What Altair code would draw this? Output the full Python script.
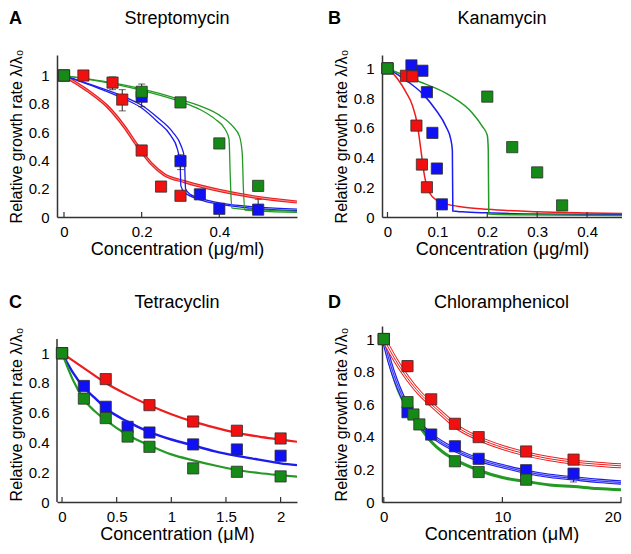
import altair as alt
import pandas as pd

FONT = "Liberation Sans"
SQ_COL = {"red": "#f01010", "blue": "#1010f5", "green": "#168a16"}
LN_COL = {"red": "#ee1c1c", "blue": "#1c1cee", "green": "#249a24"}

# ---------------- Panel A : Streptomycin ----------------
A_RED_X = [0, 0.05, 0.125, 0.15, 0.2, 0.25, 0.3]
A_RED_Y = [1.0, 1.0, 0.95, 0.83, 0.47, 0.215, 0.15]
A_BLUE_X = [0, 0.2, 0.3, 0.35, 0.4, 0.5]
A_BLUE_Y = [1.0, 0.85, 0.395, 0.16, 0.058, 0.052]
A_GREEN_X = [0, 0.2, 0.3, 0.4, 0.5]
A_GREEN_Y = [1.0, 0.885, 0.81, 0.52, 0.22]
A_ERR_X = [0.125, 0.15, 0.2, 0.3, 0.5]
A_ERR_LO = [0.90, 0.75, 0.78, 0.335, 0.052]
A_ERR_HI = [0.99, 0.90, 0.94, 0.44, 0.125]

A_RED_CX = [0, 0.035, 0.07, 0.112, 0.155, 0.19, 0.224, 0.258, 0.31, 0.396, 0.481, 0.6]
A_RED_CY = [1.0, 0.94, 0.875, 0.781, 0.64, 0.50, 0.38, 0.30, 0.25, 0.19, 0.146, 0.106]
A_BLUE1_CX = [0, 0.07, 0.155, 0.2, 0.24, 0.275, 0.292, 0.299, 0.301, 0.31, 0.353, 0.396, 0.481, 0.6]
A_BLUE1_CY = [1.0, 0.93, 0.835, 0.77, 0.675, 0.575, 0.48, 0.38, 0.22, 0.175, 0.12, 0.092, 0.062, 0.045]
A_BLUE2_CX = [0, 0.07, 0.155, 0.2, 0.24, 0.28, 0.302, 0.31, 0.313, 0.325, 0.36, 0.4, 0.5, 0.6]
A_BLUE2_CY = [1.0, 0.935, 0.85, 0.79, 0.705, 0.6, 0.5, 0.42, 0.2, 0.16, 0.125, 0.1, 0.07, 0.055]
A_GREEN1_CX = [0, 0.1, 0.2, 0.3, 0.35, 0.39, 0.415, 0.425, 0.428, 0.432, 0.45, 0.5, 0.6]
A_GREEN1_CY = [1.0, 0.955, 0.895, 0.815, 0.76, 0.69, 0.62, 0.55, 0.3, 0.065, 0.058, 0.05, 0.04]
A_GREEN2_CX = [0, 0.1, 0.2, 0.3, 0.35, 0.4, 0.435, 0.452, 0.459, 0.462, 0.466, 0.5, 0.6]
A_GREEN2_CY = [1.0, 0.96, 0.905, 0.83, 0.785, 0.72, 0.64, 0.57, 0.45, 0.2, 0.048, 0.042, 0.032]

# ---------------- Panel B : Kanamycin ----------------
B_RED_X = [0, 0.037, 0.05, 0.058, 0.069, 0.079]
B_RED_Y = [1.0, 0.95, 0.946, 0.615, 0.353, 0.2]
B_BLUE_X = [0, 0.048, 0.07, 0.079, 0.09, 0.099, 0.109]
B_BLUE_Y = [1.0, 1.02, 0.984, 0.84, 0.566, 0.326, 0.085]
B_GREEN_X = [0, 0.2, 0.25, 0.3, 0.35]
B_GREEN_Y = [1.0, 0.81, 0.47, 0.3, 0.078]

B_RED_CX = [0, 0.02, 0.037, 0.05, 0.06, 0.067, 0.074, 0.084, 0.1, 0.12, 0.15, 0.2, 0.3, 0.4, 0.47]
B_RED_CY = [1.0, 0.93, 0.84, 0.75, 0.62, 0.45, 0.28, 0.165, 0.11, 0.085, 0.068, 0.052, 0.035, 0.027, 0.023]
B_BLUE_CX = [0, 0.037, 0.07, 0.097, 0.117, 0.127, 0.13, 0.131, 0.15, 0.2, 0.3, 0.47]
B_BLUE_CY = [1.0, 0.92, 0.83, 0.72, 0.61, 0.52, 0.45, 0.04, 0.035, 0.028, 0.02, 0.015]
B_GREEN_CX = [0, 0.057, 0.124, 0.17, 0.19, 0.2, 0.202, 0.203, 0.25, 0.47]
B_GREEN_CY = [1.0, 0.92, 0.82, 0.70, 0.61, 0.55, 0.45, 0.02, 0.015, 0.01]

# ---------------- Panel C : Tetracyclin ----------------
C_RED_X = [0, 0.4, 0.8, 1.2, 1.6, 2.0]
C_RED_Y = [1.0, 0.826, 0.651, 0.541, 0.479, 0.427]
C_BLUE_X = [0, 0.2, 0.4, 0.6, 0.8, 1.2, 1.6, 2.0]
C_BLUE_Y = [1.0, 0.78, 0.64, 0.505, 0.467, 0.387, 0.353, 0.311]
C_GREEN_X = [0, 0.2, 0.4, 0.6, 0.8, 1.2, 1.6, 2.0]
C_GREEN_Y = [1.0, 0.695, 0.564, 0.44, 0.371, 0.226, 0.203, 0.172]

C_RED_CX = [0, 0.1, 0.2, 0.4, 0.6, 0.8, 1.0, 1.2, 1.4, 1.6, 1.8, 2.0, 2.15]
C_RED_CY = [1.0, 0.95, 0.9, 0.8, 0.72, 0.65, 0.59, 0.54, 0.5, 0.465, 0.44, 0.42, 0.405]
C_BLUE_CX = [0, 0.1, 0.2, 0.3, 0.4, 0.6, 0.8, 1.0, 1.2, 1.4, 1.6, 1.8, 2.0, 2.15]
C_BLUE_CY = [1.0, 0.87, 0.77, 0.7, 0.63, 0.54, 0.47, 0.42, 0.38, 0.34, 0.31, 0.285, 0.26, 0.248]
C_GREEN_CX = [0, 0.1, 0.2, 0.3, 0.4, 0.6, 0.8, 1.0, 1.2, 1.4, 1.6, 1.8, 2.0, 2.15]
C_GREEN_CY = [1.0, 0.82, 0.69, 0.61, 0.55, 0.45, 0.38, 0.32, 0.28, 0.245, 0.215, 0.195, 0.18, 0.17]

# ---------------- Panel D : Chloramphenicol ----------------
D_RED_X = [0, 2, 4, 6, 8, 12, 16]
D_RED_Y = [1.0, 0.834, 0.63, 0.48, 0.398, 0.31, 0.26]
D_BLUE_X = [0, 2, 4, 6, 8, 12, 16]
D_BLUE_Y = [1.0, 0.551, 0.414, 0.342, 0.265, 0.195, 0.174]
D_GREEN_X = [0, 2, 2.5, 3, 6, 8, 12]
D_GREEN_Y = [1.0, 0.613, 0.537, 0.476, 0.25, 0.184, 0.137]
D_ERR_X = [2, 16, 16]
D_ERR_LO = [0.80, 0.123, 0.24]
D_ERR_HI = [0.865, 0.205, 0.28]

D_RED_CX = [0, 1, 2, 3, 4, 5, 6, 8, 10, 12, 14, 16, 18, 20]
D_RED_CY = [1.0, 0.87, 0.76, 0.67, 0.6, 0.535, 0.47, 0.39, 0.335, 0.295, 0.265, 0.245, 0.232, 0.222]
D_BLUE_CX = [0, 0.5, 1, 1.5, 2, 3, 4, 6, 8, 10, 12, 14, 16, 18, 20]
D_BLUE_CY = [1.0, 0.86, 0.75, 0.66, 0.585, 0.48, 0.41, 0.32, 0.26, 0.22, 0.185, 0.16, 0.145, 0.13, 0.12]
D_GREEN_CX = [0, 0.5, 1, 1.5, 2, 2.5, 3, 4, 5, 6, 8, 10, 12, 14, 16, 18, 20]
D_GREEN_CY = [1.0, 0.85, 0.73, 0.64, 0.575, 0.52, 0.465, 0.37, 0.305, 0.26, 0.195, 0.15, 0.125, 0.105, 0.095, 0.083, 0.075]

Y_TICKS = [0, 0.2, 0.4, 0.6, 0.8, 1]
Y_TITLE = "Relative growth rate λ/λ₀"


def squares(series_list):
    rows = []
    for name, xs, ys in series_list:
        for x, y in zip(xs, ys):
            rows.append({"c": x, "v": y, "s": name})
    return pd.DataFrame(rows)


def curve(xs, ys):
    return pd.DataFrame({"c": xs, "v": ys})


def panel(letter, title, xdom, ydom, xticks, xtitle, w, h, text_y, letter_x,
          sq_series, curve_layers, errs=None, flush=False, yline_top=None):
    xaxis_kw = dict(values=xticks, format="~g", title=xtitle, ticks=False,
                    grid=False, labelPadding=7, titlePadding=1)
    if flush:
        xaxis_kw["labelFlush"] = 1
    X = alt.X("c:Q", scale=alt.Scale(domain=xdom, nice=False, zero=False),
              axis=alt.Axis(**xaxis_kw))
    Y = alt.Y("v:Q", scale=alt.Scale(domain=ydom, nice=False, zero=False),
              axis=alt.Axis(values=Y_TICKS, format="~g", title=Y_TITLE, ticks=False,
                            grid=False, labelPadding=8, titlePadding=4,
                            titleFontSize=16, domain=(yline_top is None)))
    layers = []
    if yline_top is not None:
        yl = pd.DataFrame({"v": [0], "v2": [yline_top]})
        layers.append(alt.Chart(yl).mark_rule(color="#333", strokeWidth=1.5).encode(
            x=alt.value(0), y=Y, y2=alt.Y2("v2:Q")))
    for xs, ys, col, sw in curve_layers:
        layers.append(alt.Chart(curve(xs, ys)).mark_line(
            interpolate="monotone", color=col, strokeWidth=sw, clip=True
        ).encode(x=X, y=Y))
    if errs is not None:
        ex, lo, hi = errs
        edf = pd.DataFrame({"c": ex, "v": lo, "hi": hi})
        layers.append(alt.Chart(edf).mark_rule(color="#222", strokeWidth=1).encode(
            x=X, y=Y, y2=alt.Y2("hi:Q")))
        cap = pd.DataFrame({"c": ex + ex, "v": lo + hi})
        layers.append(alt.Chart(cap).mark_tick(
            orient="horizontal", color="#222", thickness=1, size=7).encode(x=X, y=Y))
    sq = squares(sq_series)
    layers.append(alt.Chart(sq).mark_point(
        shape="square", filled=True, size=125, opacity=1,
        stroke="#303030", strokeWidth=1, strokeOpacity=0.8
    ).encode(
        x=X, y=Y,
        color=alt.Color("s:N", scale=alt.Scale(domain=list(SQ_COL.keys()),
                                               range=list(SQ_COL.values())), legend=None)))
    tk = pd.DataFrame({"c": xticks})
    layers.append(alt.Chart(tk).mark_rule(color="#333", strokeWidth=1.2).encode(
        x=X, y=alt.value(h), y2=alt.value(h - 5)))
    lab = pd.DataFrame({"t": [letter]})
    layers.append(alt.Chart(lab).mark_text(
        align="left", baseline="alphabetic", fontWeight="bold", fontSize=18,
        font=FONT, color="black"
    ).encode(x=alt.value(letter_x), y=alt.value(text_y), text="t:N"))
    ttl = pd.DataFrame({"t": [title]})
    layers.append(alt.Chart(ttl).mark_text(
        align="center", baseline="alphabetic", fontSize=18,
        font=FONT, color="black"
    ).encode(x=alt.value(w / 2), y=alt.value(text_y), text="t:N"))
    return alt.layer(*layers).properties(width=w, height=h)


pA = panel("A", "Streptomycin", [-0.018, 0.6], [0, 1.145], [0, 0.2, 0.4],
           "Concentration (μg/ml)", 240, 162, -31, -48,
           [("blue", A_BLUE_X, A_BLUE_Y), ("red", A_RED_X, A_RED_Y), ("green", A_GREEN_X, A_GREEN_Y)],
           [(A_RED_CX, A_RED_CY, LN_COL["red"], 3.2),
            (A_RED_CX, A_RED_CY, "#f4a0a0", 0.9),
            (A_BLUE1_CX, A_BLUE1_CY, LN_COL["blue"], 1.3),
            (A_BLUE2_CX, A_BLUE2_CY, LN_COL["blue"], 1.3),
            (A_GREEN1_CX, A_GREEN1_CY, LN_COL["green"], 1.3),
            (A_GREEN2_CX, A_GREEN2_CY, LN_COL["green"], 1.3)],
           errs=(A_ERR_X, A_ERR_LO, A_ERR_HI))

pB = panel("B", "Kanamycin", [-0.011, 0.47], [0, 1.09], [0, 0.1, 0.2, 0.3, 0.4],
           "Concentration (μg/ml)", 240, 162, -31, -54,
           [("blue", B_BLUE_X, B_BLUE_Y), ("red", B_RED_X, B_RED_Y), ("green", B_GREEN_X, B_GREEN_Y)],
           [(B_RED_CX, B_RED_CY, LN_COL["red"], 1.5),
            (B_BLUE_CX, B_BLUE_CY, LN_COL["blue"], 1.5),
            (B_GREEN_CX, B_GREEN_CY, LN_COL["green"], 1.5)])

pC = panel("C", "Tetracyclin", [-0.046, 2.15], [0, 1.183], [0, 0.5, 1, 1.5, 2],
           "Concentration (μM)", 240, 176, -18, -48,
           [("blue", C_BLUE_X, C_BLUE_Y), ("red", C_RED_X, C_RED_Y), ("green", C_GREEN_X, C_GREEN_Y)],
           [(C_RED_CX, C_RED_CY, LN_COL["red"], 2.2),
            (C_BLUE_CX, C_BLUE_CY, LN_COL["blue"], 2.4),
            (C_GREEN_CX, C_GREEN_CY, LN_COL["green"], 2.2)],
           yline_top=1.096)

pD = panel("D", "Chloramphenicol", [-0.15, 20], [0, 1.08], [0, 10, 20],
           "Concentration (μM)", 239, 176, -18, -54,
           [("blue", D_BLUE_X, D_BLUE_Y), ("red", D_RED_X, D_RED_Y), ("green", D_GREEN_X, D_GREEN_Y)],
           [(D_GREEN_CX, D_GREEN_CY, LN_COL["green"], 3.0),
            (D_BLUE_CX, D_BLUE_CY, LN_COL["blue"], 4.4),
            (D_BLUE_CX, D_BLUE_CY, "#b8b8ff", 2.2),
            (D_BLUE_CX, D_BLUE_CY, LN_COL["blue"], 0.9),
            (D_RED_CX, D_RED_CY, LN_COL["red"], 5.0),
            (D_RED_CX, D_RED_CY, "white", 3.0),
            (D_RED_CX, D_RED_CY, LN_COL["red"], 1.0)],
           errs=(D_ERR_X, D_ERR_LO, D_ERR_HI), flush=True)

chart = alt.vconcat(
    alt.hconcat(pA, pB, spacing=31),
    alt.hconcat(pC, pD, spacing=31),
    spacing=36,
).properties(padding={"top": 2, "left": 0, "right": 0, "bottom": 0}).configure_view(
    stroke=None
).configure_axis(
    labelFont=FONT, titleFont=FONT, labelFontSize=15, titleFontSize=18,
    labelColor="black", titleColor="black", titleFontWeight="normal",
    domainColor="#333", domainWidth=1.5,
)

chart.save("out.html", embed_options={"renderer": "svg", "actions": False})
